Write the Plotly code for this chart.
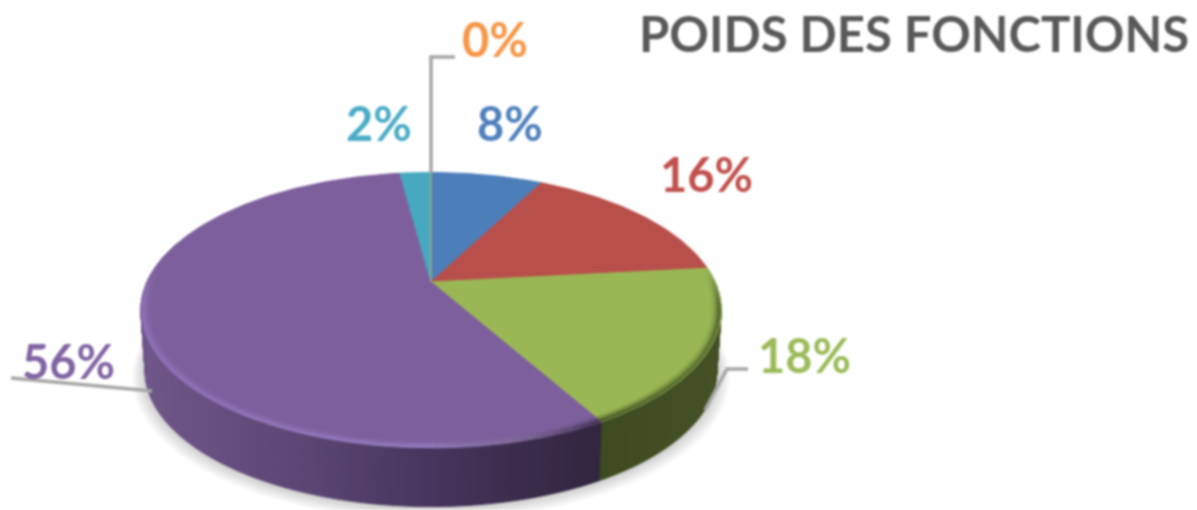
import math
import plotly.graph_objects as go

# Data
labels = ["Fonction 1", "Fonction 2", "Fonction 3", "Fonction 4", "Fonction 5", "Fonction 6"]
values = [7.6, 15.7, 18.5, 56.1, 2.1, 0.0]
colors = ["#4c7eb9", "#b94f4b", "#9ab755", "#7e5f9d", "#47a8c0", "#f79646"]
text_colors = ["#4f81bd", "#c0504d", "#9bbb59", "#8064a2", "#4bacc6", "#f79646"]
title_text = "POIDS DES FONCTIONS"

W, H = 1197, 510
CX, CY = 431, 282       # apex of the pie, on the picture
A, B, K = 284, 132, 0.205   # projective circle
DEPTH, BOT_SCALE = 61, 0.985


def proj(pct, r=1.0, dy=0.0, s=1.0):
    t = 2 * math.pi * pct / 100
    u, v = r * math.sin(t), r * math.cos(t)
    w = 1 + K * v
    return CX + s * A * u / w, CY + dy - s * B * v / w


def lerp(c1, c2, f):
    return tuple(a + (b - a) * f for a, b in zip(c1, c2))


def hex2(c):
    c = c.lstrip("#")
    return tuple(int(c[i:i + 2], 16) for i in (0, 2, 4))


def css(c):
    return "rgb(%d,%d,%d)" % tuple(round(x) for x in c)


def ramp(x, stops):
    if x <= stops[0][0]:
        return hex2(stops[0][1])
    for (x0, c0), (x1, c1) in zip(stops, stops[1:]):
        if x <= x1:
            return lerp(hex2(c0), hex2(c1), (x - x0) / (x1 - x0))
    return hex2(stops[-1][1])


PURPLE_WALL = [(145, "#6f5689"), (300, "#5c4674"), (430, "#46355c"), (600, "#31253f")]
GREEN_WALL = [(600, "#3e4a20"), (720, "#445026")]
PURPLE_RIM = [(145, "#8f74b8"), (430, "#9379bd"), (520, "#7e6a96"), (600, "#3f3150")]
GREEN_RIM = [(600, "#4a5a26"), (700, "#566a2e"), (722, "#4e5f2a")]

fig = go.Figure()


def poly(xs, ys, color):
    fig.add_trace(go.Scatter(x=xs, y=ys, mode="lines", fill="toself", fillcolor=color,
                             line=dict(color=color, width=1), hoverinfo="skip", showlegend=False))


# soft shadow under the pie
for i in range(8):
    pts = [proj(p / 2, s=BOT_SCALE + 0.006 * i, dy=DEPTH + 1 + 0.7 * i) for p in range(0, 201)]
    poly([p[0] for p in pts], [p[1] for p in pts], "rgba(0,0,0,0.022)")

starts = [sum(values[:i]) for i in range(len(values))]
ends = [sum(values[:i + 1]) for i in range(len(values))]

# side wall, as narrow quads
STEP = 0.25
for idx, stops in ((2, GREEN_WALL), (3, PURPLE_WALL)):
    p = starts[idx]
    while p < ends[idx]:
        q = min(p + STEP, ends[idx])
        a, b = proj(p), proj(q)
        c, d = proj(q, s=BOT_SCALE, dy=DEPTH), proj(p, s=BOT_SCALE, dy=DEPTH)
        if math.cos(2 * math.pi * p / 100) < 0.3:
            col = css(ramp((a[0] + b[0]) / 2, stops))
            poly([a[0], b[0], c[0], d[0], a[0]], [a[1], b[1], c[1], d[1], a[1]], col)
        p = q

# top face
for s0, e0, col in zip(starts, ends, colors):
    if e0 > s0:
        n = max(2, int((e0 - s0) * 4))
        pts = [proj(s0 + (e0 - s0) * i / n) for i in range(n + 1)]
        poly([CX] + [p[0] for p in pts] + [CX], [CY] + [p[1] for p in pts] + [CY], col)

# the 0 % slice is only a hairline
a = proj(ends[-1])
fig.add_trace(go.Scatter(x=[CX, a[0]], y=[CY, a[1]], mode="lines",
                         line=dict(color="#d9a25a", width=1), hoverinfo="skip", showlegend=False))

# bevel along the front edge
for idx, stops in ((2, GREEN_RIM), (3, PURPLE_RIM)):
    base = hex2(colors[idx])
    bands = ((0.972, 0.12), (0.98, 0.35), (0.987, 0.65), (0.994, 0.95))
    for r, wgt in bands:
        p = starts[idx]
        while p < ends[idx]:
            q = min(p + 0.5, ends[idx])
            a, b = proj(p, r=r), proj(q, r=r)
            t = math.cos(2 * math.pi * p / 100)
            if t < 0.1:
                w2 = wgt * min(1.0, (0.1 - t) / 0.25)
                col = css(lerp(base, ramp((a[0] + b[0]) / 2, stops), w2))
                fig.add_trace(go.Scatter(x=[a[0], b[0]], y=[a[1], b[1]], mode="lines",
                                         line=dict(color=col, width=2.5), hoverinfo="skip",
                                         showlegend=False))
            p = q

# leader lines
LEADERS = [
    ([455, 431, 431], [57, 57, 173]),
    ([748, 727, 705], [369, 369, 410]),
    ([11, 152], [378, 391]),
]
for lx, ly in LEADERS:
    fig.add_trace(go.Scatter(x=lx, y=ly, mode="lines", line=dict(color="#a6a6a6", width=3.5),
                             hoverinfo="skip", showlegend=False))

# percentage labels
LABEL_POS = [(510, 123), (706, 174), (804, 355), (68, 361), (379, 123), (495, 39)]
for v, col, (x, y) in zip(values, text_colors, LABEL_POS):
    fig.add_annotation(x=x, y=y, text="<b>%d%%</b>" % round(v), showarrow=False,
                       font=dict(family="Lato", size=47, color=col),
                       xanchor="center", yanchor="middle")

fig.add_annotation(x=1191, y=33, text="<b>%s</b>" % title_text, showarrow=False,
                   font=dict(family="Lato", size=49, color="#595959"),
                   xanchor="right", yanchor="middle")

fig.update_layout(
    width=W, height=H, margin=dict(l=0, r=0, t=0, b=0),
    paper_bgcolor="white", plot_bgcolor="white", showlegend=False,
    xaxis=dict(range=[0, W], visible=False, fixedrange=True),
    yaxis=dict(range=[H, 0], visible=False, fixedrange=True),
)
fig.write_html("out.html", config={"displayModeBar": False},
               post_script="document.body.style.margin='0';document.body.style.overflow='hidden';"
                           "document.querySelector('.plotly-graph-div').style.filter='blur(0.8px)';")
